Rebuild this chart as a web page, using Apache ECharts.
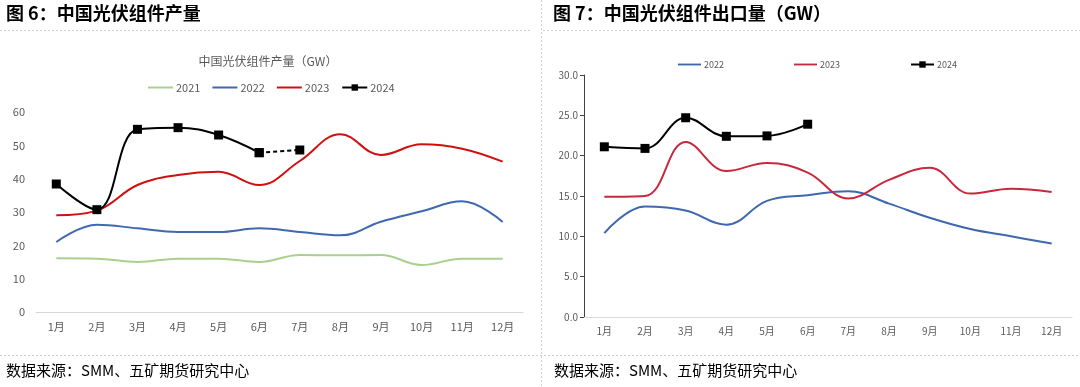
<!DOCTYPE html>
<html><head><meta charset="utf-8">
<script src="https://cdn.jsdelivr.net/npm/echarts@6/dist/echarts.min.js"></script>
<style>html,body{margin:0;padding:0;background:#fff}#c{width:1080px;height:387px}</style>
</head><body><div id="c"></div>
<script>
const months = ['1月','2月','3月','4月','5月','6月','7月','8月','9月','10月','11月','12月'];
// Fig 6: production (GW)
const prod2021 = [16.1,16.0,15.0,16.0,16.0,15.0,17.1,17.0,17.1,14.1,16.0,16.0];
const prod2022 = [21.0,26.2,25.1,24.0,24.0,25.1,24.0,23.0,27.1,30.2,33.2,27.0];
const prod2023 = [29.0,30.4,38.1,41.1,42.1,38.1,45.3,53.3,47.1,50.3,49.0,45.1];
const prod2024 = [38.4,30.7,54.8,55.3,53.1,47.8];
const prod2024Est = [null,null,null,null,null,47.8,48.6];
// Fig 7: exports (GW)
const exp2022 = [10.4,13.7,13.2,11.45,14.4,15.1,15.6,14.05,12.3,10.9,10.0,9.1];
const exp2023 = [14.9,15.0,21.7,18.1,19.1,17.9,14.7,17.0,18.5,15.3,15.9,15.5];
const exp2024 = [21.1,20.9,24.7,22.4,22.45,23.9];
const prodTicks = [0,10,20,30,40,50,60];
const expTicks = ['0.0','5.0','10.0','15.0','20.0','25.0','30.0'];

const FONT = '"Noto Sans CJK SC","Noto Sans",sans-serif';
const LINE_ICON = 'path://M0,0H25V2H0Z';
const chart = echarts.init(document.getElementById('c'));
const dash = {stroke:'#d0d0d0', lineWidth:1, lineDash:[2,2]};
chart.setOption({
  animation:false,
  textStyle:{fontFamily:FONT},
  title:[
    {text:'中国光伏组件产量（GW）', left:263, top:50, textAlign:'center',
     textStyle:{fontSize:12, fontWeight:'normal', color:'#595959', fontFamily:FONT}}
  ],
  graphic:[
    {type:'text', left:6, top:4, style:{text:'图 6：中国光伏组件产量', fill:'#000', font:'bold 18px "Noto Sans CJK SC"'}},
    {type:'text', left:553, top:4, style:{text:'图 7：中国光伏组件出口量（GW）', fill:'#000', font:'bold 18px "Noto Sans CJK SC"'}},
    {type:'line', shape:{x1:0,y1:30.5,x2:531,y2:30.5}, style:dash},
    {type:'line', shape:{x1:543,y1:30.5,x2:1080,y2:30.5}, style:dash},
    {type:'line', shape:{x1:541.5,y1:0,x2:541.5,y2:387}, style:dash},
    {type:'line', shape:{x1:0,y1:355.5,x2:1080,y2:355.5}, style:dash},
    {type:'text', left:6, top:363, style:{text:'数据来源：SMM、五矿期货研究中心', font:'15px "Noto Sans CJK SC"', fill:'#000'}},
    {type:'text', left:554, top:363, style:{text:'数据来源：SMM、五矿期货研究中心', font:'15px "Noto Sans CJK SC"', fill:'#000'}}
  ],
  legend:[
    {left:143, top:77, itemWidth:25, itemHeight:8, itemGap:12,
     data:[{name:'2021',icon:LINE_ICON},{name:'2022',icon:LINE_ICON},{name:'2023',icon:LINE_ICON},'2024'],
     textStyle:{fontSize:11, color:'#595959', padding:[0,0,0,-2]}},
    {left:673, top:55, itemWidth:23, itemHeight:8, itemGap:68,
     data:[{name:'2022 ',icon:LINE_ICON},{name:'2023 ',icon:LINE_ICON},'2024 '],
     textStyle:{fontSize:9, color:'#595959', padding:[0,0,0,-2]}}
  ],
  grid:[
    {left:36, right:557, top:112, bottom:75, containLabel:false},
    {left:584, right:8, top:75, bottom:70, containLabel:false}
  ],
  xAxis:[
    {type:'category', gridIndex:0, data:months, boundaryGap:true,
     axisLine:{lineStyle:{color:'#d9d9d9'}}, axisTick:{show:false},
     axisLabel:{fontSize:11, color:'#595959', margin:9}},
    {type:'category', gridIndex:1, data:months, boundaryGap:true,
     axisLine:{lineStyle:{color:'#d9d9d9'}}, axisTick:{show:false},
     axisLabel:{fontSize:10, color:'#595959', margin:9}}
  ],
  yAxis:[
    {type:'value', gridIndex:0, min:prodTicks[0], max:prodTicks[prodTicks.length-1], interval:10,
     axisLine:{show:false}, axisTick:{show:false}, splitLine:{show:false},
     axisLabel:{fontSize:11, color:'#595959', margin:11}},
    {type:'value', gridIndex:1, min:0, max:30, interval:5,
     axisLine:{show:true, lineStyle:{color:'#404040'}}, axisTick:{show:true, length:4, lineStyle:{color:'#404040'}},
     splitLine:{show:false},
     axisLabel:{fontSize:10, color:'#595959', margin:6, formatter:v=>expTicks[Math.round(v/5)]}}
  ],
  series:[
    {name:'2021', type:'line', xAxisIndex:0, yAxisIndex:0, data:prod2021, smooth:0.4, symbol:'none', lineStyle:{color:'#a9d18e', width:2}, itemStyle:{color:'#a9d18e'}},
    {name:'2022', type:'line', xAxisIndex:0, yAxisIndex:0, data:prod2022, smooth:0.4, symbol:'none', lineStyle:{color:'#4068b0', width:2}, itemStyle:{color:'#4068b0'}},
    {name:'2023', type:'line', xAxisIndex:0, yAxisIndex:0, data:prod2023, smooth:0.4, symbol:'none', lineStyle:{color:'#d01010', width:2}, itemStyle:{color:'#d01010'}},
    {name:'2024', type:'line', xAxisIndex:0, yAxisIndex:0, data:prod2024, smooth:0.4, symbol:'rect', symbolSize:9, lineStyle:{color:'#000', width:2}, itemStyle:{color:'#000'}},
    {name:'2024est', type:'line', xAxisIndex:0, yAxisIndex:0, data:prod2024Est, smooth:0.4, symbol:'rect', symbolSize:9, lineStyle:{color:'#000', width:2, type:[4,3]}, itemStyle:{color:'#000'}, z:1},
    {name:'2022 ', type:'line', xAxisIndex:1, yAxisIndex:1, data:exp2022, smooth:0.4, symbol:'none', lineStyle:{color:'#3f67ad', width:2}, itemStyle:{color:'#3f67ad'}},
    {name:'2023 ', type:'line', xAxisIndex:1, yAxisIndex:1, data:exp2023, smooth:0.4, symbol:'none', lineStyle:{color:'#c8283c', width:2}, itemStyle:{color:'#c8283c'}},
    {name:'2024 ', type:'line', xAxisIndex:1, yAxisIndex:1, data:exp2024, smooth:0.4, symbol:'rect', symbolSize:9, lineStyle:{color:'#000', width:2}, itemStyle:{color:'#000'}}
  ]
});
</script></body></html>
